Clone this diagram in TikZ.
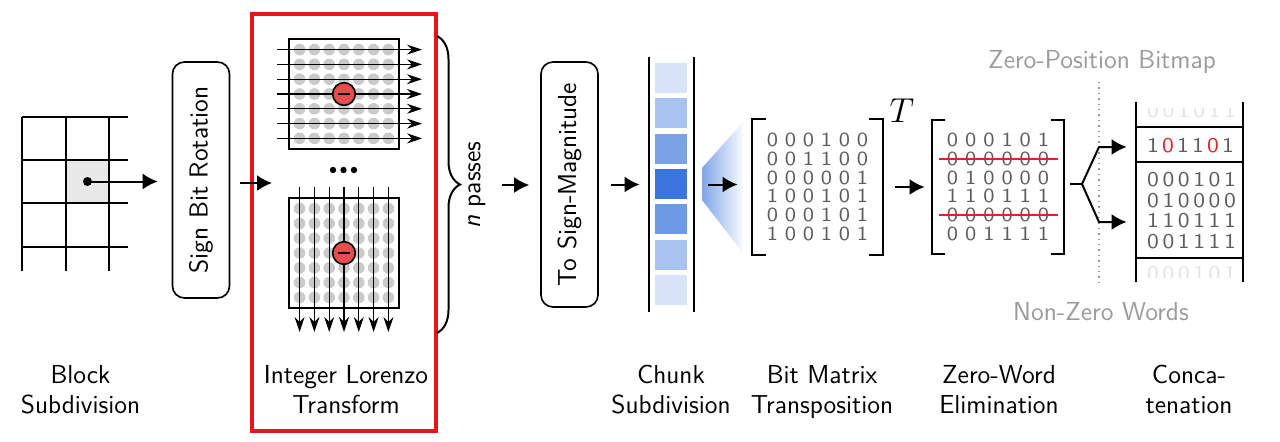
\documentclass[tikz,border=0pt]{standalone}
\usetikzlibrary{arrows.meta,decorations.pathreplacing,calc}
\definecolor{chunkblue}{HTML}{3A76DC}
\definecolor{lzred}{HTML}{E8141C}
\definecolor{negred}{HTML}{E84D4D}
\definecolor{dotgray}{HTML}{CACACA}
\definecolor{bitgray}{HTML}{5C5C5C}
\definecolor{strikered}{HTML}{D7262B}
\definecolor{notegray}{HTML}{9B9B9B}
% one word of bits, each bit in a box of width #1
\newcommand{\bitword}[2]{\def\bitw{#1}\bitloop#2\relax}
\def\bitloop#1{\ifx#1\relax\else\makebox[\bitw]{\scalebox{1.12}[1]{#1}}\expandafter\bitloop\fi}

\begin{document}
\begin{tikzpicture}[x=0.5pt,y=-0.5pt,>={Latex[length=7.5pt,width=8pt]},
    every node/.style={font=\sffamily\fontsize{13}{15}\selectfont},
    flow/.style={->,line width=1pt},
    pass/.style={-{Stealth[length=7.5pt,width=5pt]},line width=0.6pt},
    stage/.style={draw,line width=0.8pt,rounded corners=6pt,rotate=90,
      minimum height=28.5pt,inner sep=0pt},
    steplabel/.style={align=center,anchor=north,inner sep=0pt},
    bits/.style={text=bitgray,inner sep=0pt,align=center},
    faded/.style={bits,text=gray!22},
    matrixbox/.style={inner sep=0pt,minimum width=55pt,minimum height=55pt},
    neg/.style={circle,draw,line width=0.8pt,fill=negred,minimum size=11.3pt,inner sep=0pt}]
  \useasboundingbox (0,0) rectangle (1280,441);

  % draw the block grid
  \fill[gray!18] (66,160) rectangle (109,203);
  \foreach \x in {22,66,109} \draw[line width=1pt] (\x,117) -- (\x,271);
  \foreach \y in {117,160,203,247} \draw[line width=1pt] (22,\y) -- (128,\y);
  \node[circle,fill,inner sep=0pt,minimum size=4.5pt] (blk) at (87.5,181.5) {};

  % sign bit rotation
  \node[stage,minimum width=118pt] (sbr) at (201,180) {Sign Bit Rotation};
  \draw[flow,shorten >=7pt] (blk.center) -- (blk -| sbr.north);

  % the lorenzo passes
  \node[draw=lzred,line width=2pt,minimum width=92pt,minimum height=208.5pt] (lz) at (344,222.5) {};
  \coordinate (lzin) at (272,183);
  \draw[flow,shorten <=5pt] (sbr.south |- lzin) -- (lzin);

  \node[draw,line width=1pt,fill=white,matrixbox] (rowm) at (344,94) {};
  \node[draw,line width=1pt,fill=white,matrixbox] (colm) at (344,253) {};
  \foreach \r in {0,...,6} {
    \foreach \c in {0,...,6} {
      \fill[dotgray] (299.6+14.8*\c,49.6+14.8*\r) circle (2.9pt);
      \fill[dotgray] (299.6+14.8*\c,208.6+14.8*\r) circle (2.9pt);
    }
  }
  % rows left to right, columns top to bottom
  \foreach \k in {0,...,6} {
    \draw[pass] (277,49.6+14.8*\k) -- (422,49.6+14.8*\k);
    \draw[pass] (299.6+14.8*\k,187) -- (299.6+14.8*\k,332);
  }
  \node[neg] (rowneg) at (rowm.center) {};
  \node[neg] (colneg) at (colm.center) {};
  \foreach \n in {rowneg,colneg}
    \draw[line width=1.1pt] ([xshift=-2.9pt]\n.center) -- ([xshift=2.9pt]\n.center);
  \foreach \x in {333,343.5,354} \fill (\x,170) circle (1.6pt);

  % n passes
  \draw[line width=1pt,decorate,decoration={brace,amplitude=11.5pt}] (437,36) -- (437,333);
  \node[rotate=90] (passes) at (477,185) {\textit{n} passes};

  % sign-magnitude
  \node[stage,minimum width=122.5pt] (tsm) at (569.5,184.5) {To Sign-Magnitude};
  \draw[flow,shorten <=4.5pt,shorten >=5.5pt] (passes.south) -- (passes.south -| tsm.north);

  % chunk subdivision
  \node[inner sep=0pt,minimum width=22.5pt,minimum height=127.5pt] (chunk) at (671.5,184.5) {};
  \draw[flow,shorten <=6pt,shorten >=4.5pt] (tsm.south |- chunk) -- (chunk.west);
  \foreach \k/\tone in {0/20,1/44,2/68,3/100,4/74,5/44,6/20}
    \fill[chunkblue!\tone] (655,63+35.3*\k) rectangle (687,93+35.3*\k);
  \draw[line width=1pt] (chunk.north west) -- (chunk.south west)
    (chunk.north east) -- (chunk.south east);
  \shade[left color=chunkblue!65,right color=chunkblue!3] (702,168) -- (743,122) -- (743,253) -- (702,200) -- cycle;

  % bit matrix
  \node[bits,font=\sffamily\fontsize{10}{9.4}\selectfont,minimum width=65.5pt,minimum height=67.5pt] (bm) at (817.5,187)
    {\bitword{9pt}{000100}\\\bitword{9pt}{001100}\\\bitword{9pt}{000001}\\
     \bitword{9pt}{100101}\\\bitword{9pt}{000101}\\\bitword{9pt}{100101}};
  \draw[line width=1pt] ([xshift=7pt]bm.north west) -- (bm.north west) -- (bm.south west) -- ([xshift=7pt]bm.south west);
  \draw[line width=1pt] ([xshift=-7pt]bm.north east) -- (bm.north east) -- (bm.south east) -- ([xshift=-7pt]bm.south east);
  \draw[flow,shorten <=7pt,shorten >=7pt] (chunk.east) -- (chunk.east -| bm.west);
  \node[font=\fontsize{16}{18}\selectfont] (trans) at (902,111) {$T$};

  % zero-word elimination
  \node[bits,font=\sffamily\fontsize{10}{9.4}\selectfont,minimum width=66pt,minimum height=66.5pt] (zwe) at (998,187)
    {\bitword{9.1pt}{000101}\\\bitword{9.1pt}{000000}\\\bitword{9.1pt}{010000}\\
     \bitword{9.1pt}{110111}\\\bitword{9.1pt}{000000}\\\bitword{9.1pt}{001111}};
  \draw[line width=1pt] ([xshift=6.5pt]zwe.north west) -- (zwe.north west) -- (zwe.south west) -- ([xshift=6.5pt]zwe.south west);
  \draw[line width=1pt] ([xshift=-6.5pt]zwe.north east) -- (zwe.north east) -- (zwe.south east) -- ([xshift=-6.5pt]zwe.south east);
  \draw[flow,shorten <=6pt,shorten >=3.5pt] (bm.east) -- (bm.east -| zwe.west);
  \foreach \dy in {-28.2,28.2}
    \draw[strikered,line width=1pt] ([shift={(-59,\dy)}]zwe.center) -- ([shift={(60,\dy)}]zwe.center);

  % split into bitmap and words
  \node[text=notegray] (zpb) at (1102,62) {Zero-Position Bitmap};
  \node[text=notegray] (nzw) at (1101,312) {Non-Zero Words};
  \draw[notegray,dotted,line width=0.7pt] (1099,82) -- (1099,287);
  \node[inner sep=0pt,minimum width=53.5pt,minimum height=90pt] (cc) at (1189.5,192) {};
  \coordinate (fork) at (1082,184);
  \coordinate (up) at (1099,147);
  \coordinate (dn) at (1099,222);
  \draw[line width=1pt,shorten <=3pt] (zwe.east |- fork) -- (fork);
  \draw[flow,shorten >=4.5pt] (fork) -- (up) -- (up -| cc.west);
  \draw[flow,shorten >=4.5pt] (fork) -- (dn) -- (dn -| cc.west);

  % concatenation
  \draw[line width=1pt] (cc.north west) -- (cc.south west) (cc.north east) -- (cc.south east);
  \foreach \y in {127,162,258} \draw[line width=1pt] (cc.west |- 0,\y) -- (cc.east |- 0,\y);
  \node[bits,font=\sffamily\fontsize{10.5}{12}\selectfont] (bmp) at (1190.5,146)
    {\bitword{7.5pt}{1}\makebox[7.5pt]{\scalebox{1.12}[1]{\textcolor{strikered}{0}}}\bitword{7.5pt}{11}%
     \makebox[7.5pt]{\scalebox{1.12}[1]{\textcolor{strikered}{0}}}\bitword{7.5pt}{1}};
  \node[bits,font=\sffamily\fontsize{10.5}{10.25}\selectfont] (nzw-bits) at (1191.5,210.75)
    {\bitword{7.7pt}{000101}\\\bitword{7.7pt}{010000}\\\bitword{7.7pt}{110111}\\\bitword{7.7pt}{001111}};
  \begin{scope}
    \clip (1136,108) rectangle (1243,127);
    \node[faded,font=\sffamily\fontsize{10.5}{12}\selectfont] (prev) at (1191.5,110.5) {\bitword{7.7pt}{001011}};
  \end{scope}
  \begin{scope}
    \clip (1136,258) rectangle (1243,277);
    \node[faded,font=\sffamily\fontsize{10.5}{12}\selectfont] (next) at (1191.5,274) {\bitword{7.7pt}{000101}};
  \end{scope}

  % step names
  \node[steplabel] (lb1) at (80.5,365) {Block\\Subdivision};
  \node[steplabel] (lb2) at (346,365) {Integer Lorenzo\\Transform};
  \node[steplabel] (lb3) at (671,365) {Chunk\\Subdivision};
  \node[steplabel] (lb4) at (822,365) {Bit Matrix\\Transposition};
  \node[steplabel] (lb5) at (999,365) {Zero-Word\\Elimination};
  \node[steplabel] (lb6) at (1189,365) {Conca-\\tenation};
\end{tikzpicture}
\end{document}
